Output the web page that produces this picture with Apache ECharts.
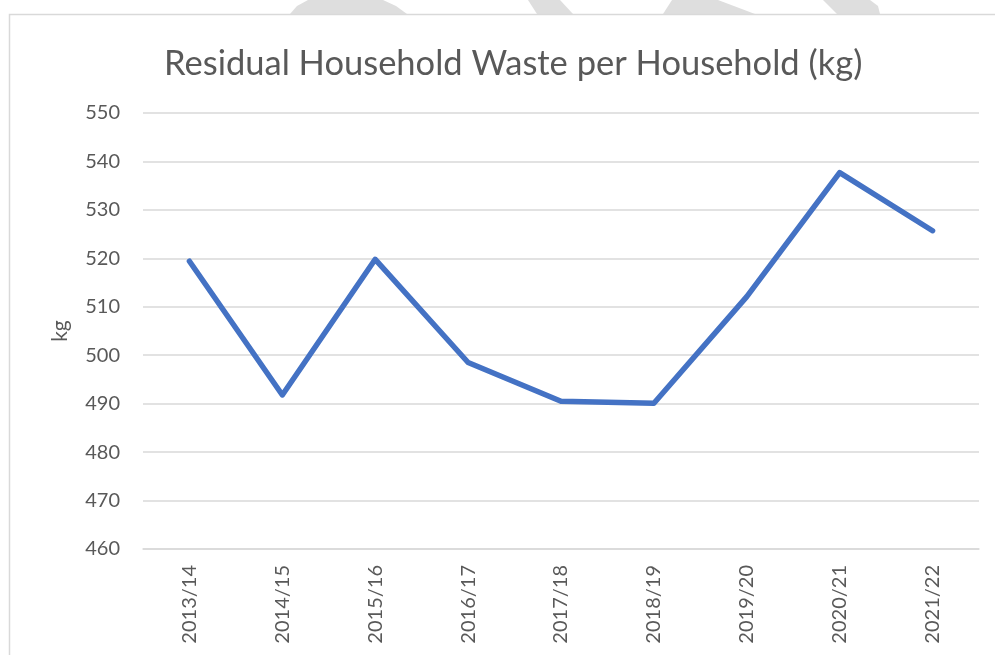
<!DOCTYPE html>
<html>
<head>
<meta charset="utf-8">
<script src="https://cdn.jsdelivr.net/npm/echarts@6/dist/echarts.min.js"></script>
<style>
  html, body { margin: 0; padding: 0; background: #fff; }
  #chart { width: 995px; height: 655px; }
</style>
</head>
<body>
<div id="chart"></div>
<script>
var years = ['2013/14', '2014/15', '2015/16', '2016/17', '2017/18', '2018/19', '2019/20', '2020/21', '2021/22'];
var wastePerHousehold = [519.4, 491.8, 519.8, 498.5, 490.5, 490.1, 512.1, 537.7, 525.7];
var yMin = 460, yMax = 550, yStep = 10;

var textColor = '#595959';
var font = 'Lato';

// faint watermark pieces showing above the chart frame
function stripe(points) {
    return {
        type: 'polygon',
        shape: { points: points },
        style: { fill: '#dedede' },
        silent: true
    };
}

var myChart = echarts.init(document.getElementById('chart'));
var option = {
    backgroundColor: '#fff',
    animation: false,
    title: {
        text: 'Residual Household Waste per Household (kg)',
        left: 159,
        top: 41,
        textStyle: { color: textColor, fontSize: 34.5, fontWeight: 'normal', fontFamily: font }
    },
    graphic: [
        stripe([[290, 14], [297, 6], [308, 0], [383, 0], [396, 6], [407, 14]]),
        stripe([[528, 0], [560, 0], [573, 14], [537, 14]]),
        stripe([[672, 0], [718, 0], [755, 14], [663, 14]]),
        stripe([[823, 0], [870, 0], [878, 6], [880, 14], [837, 14]]),
        {
            type: 'rect',
            shape: { x: 9.5, y: 14.5, width: 1000, height: 700 },
            style: { fill: 'none', stroke: '#d9d9d9', lineWidth: 1.5 },
            silent: true
        }
    ],
    grid: { left: 143, right: 16, top: 113, bottom: 106 },
    xAxis: {
        type: 'category',
        data: years,
        boundaryGap: true,
        axisLine: { lineStyle: { color: '#d9d9d9', width: 1.5 } },
        axisTick: { show: false },
        axisLabel: { rotate: 90, color: textColor, fontSize: 20, fontFamily: font, margin: 16 }
    },
    yAxis: {
        type: 'value',
        min: yMin,
        max: yMax,
        interval: yStep,
        name: 'kg',
        nameLocation: 'middle',
        nameGap: 72,
        nameRotate: 90,
        nameTextStyle: { color: textColor, fontSize: 21, fontFamily: font },
        axisLine: { show: false },
        axisTick: { show: false },
        axisLabel: { color: textColor, fontSize: 20, fontFamily: font, margin: 23 },
        splitLine: { lineStyle: { color: '#d9d9d9', width: 1.5 } }
    },
    series: [{
        type: 'line',
        data: wastePerHousehold,
        showSymbol: false,
        symbol: 'none',
        lineStyle: { color: '#4472c4', width: 5.5, cap: 'round', join: 'round' }
    }]
};
myChart.setOption(option);
</script>
</body>
</html>
